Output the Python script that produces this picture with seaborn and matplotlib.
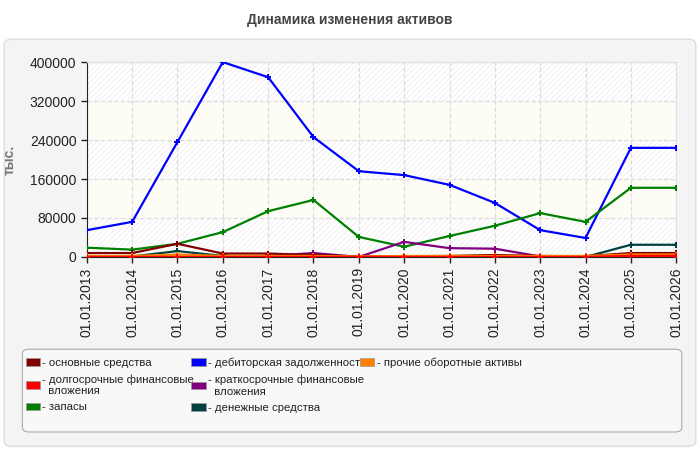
import pandas as pd
import matplotlib.pyplot as plt
import matplotlib.patches as mpatches
from matplotlib.patches import FancyBboxPatch
import seaborn as sns

dates = ['01.01.2013', '01.01.2014', '01.01.2015', '01.01.2016', '01.01.2017',
         '01.01.2018', '01.01.2019', '01.01.2020', '01.01.2021', '01.01.2022',
         '01.01.2023', '01.01.2024', '01.01.2025', '01.01.2026']

fixed_assets = [8000, 8000, 27000, 7000, 7000, 4000, 1000, 1500, 2000, 4000, 2000, 1500, 8000, 8000]
long_fin = [0, 0, 0, 0, 0, 0, 0, 0, 0, 0, 0, 0, 2000, 2000]
stocks = [19000, 15000, 27000, 51000, 94000, 117000, 41000, 21000, 43000, 64000, 90000, 72000, 142000, 142000]
receivables = [55000, 72000, 236000, 400000, 369000, 246000, 176000, 168000, 148000, 111000, 55000, 39000, 224000, 224000]
short_fin = [0, 0, 0, 0, 2000, 8000, 0, 31000, 18000, 17000, 1000, 0, 0, 0]
cash = [0, 1000, 12000, 2000, 1000, 1000, 0, 0, 0, 0, 0, 0, 25000, 25000]
other = [2000, 2000, 5000, 2000, 2000, 2000, 1000, 2000, 2000, 2000, 2000, 2000, 5000, 5000]

series_names = ['основные средства', 'долгосрочные финансовые\nвложения', 'запасы',
                'дебиторская задолженность', 'краткосрочные финансовые\nвложения',
                'денежные средства', 'прочие оборотные активы']
series_values = [fixed_assets, long_fin, stocks, receivables, short_fin, cash, other]
colors = ['#800000', '#ff0000', '#008000', '#0000ff', '#800080', '#004040', '#ff8000']
draw_order = [3, 2, 4, 5, 0, 6, 1]

rows = []
for name, vals in zip(series_names, series_values):
    for i, v in enumerate(vals):
        rows.append({'x': i, 'value': v, 'series': name})
df = pd.DataFrame(rows)

sns.set_style('white')
plt.rcParams['font.family'] = ['Liberation Sans', 'DejaVu Sans']
plt.rcParams['hatch.linewidth'] = 0.6

fig = plt.figure(figsize=(7, 4.5), dpi=100)
fig.patch.set_facecolor('white')
panel = FancyBboxPatch((0.006, 0.008), 0.988, 0.905, boxstyle='round,pad=0,rounding_size=0.012',
                       transform=fig.transFigure, facecolor='#f4f4f4', edgecolor='#dddddd',
                       lw=1, zorder=-5)
fig.patches.append(panel)
fig.text(0.5, 0.955, 'Динамика изменения активов', ha='center', va='center',
         fontsize=10, fontweight='bold', color='#444444')

ax = fig.add_axes([0.124, 0.429, 0.842, 0.433])
ax.set_facecolor('white')
# alternating bands
for lo, hi, col in [(0, 80000, None), (80000, 160000, '#fdfdf6'), (160000, 240000, None),
                    (240000, 320000, '#fdfdf6'), (320000, 400000, None)]:
    if col:
        ax.axhspan(lo, hi, facecolor=col, edgecolor='none', zorder=0)
    else:
        ax.axhspan(lo, hi, facecolor='white', edgecolor='#eeeeee', hatch='//////', lw=0, zorder=0)

for idx in draw_order:
    sub = df[df['series'] == series_names[idx]]
    sns.lineplot(data=sub, x='x', y='value', color=colors[idx], lw=1.6, marker='P',
                 markersize=4, markeredgewidth=0, ax=ax, zorder=3, legend=False)

ax.set_xlim(0, len(dates) - 1)
ax.set_ylim(0, 400000)
ax.set_xticks(range(len(dates)))
ax.set_xticklabels(dates, rotation=90, fontsize=10, color='#222222')
ax.set_yticks(range(0, 400001, 80000))
ax.tick_params(axis='y', labelsize=10, colors='#222222', length=4, width=1, left=True)
ax.tick_params(axis='x', length=4, width=1, bottom=True)
ax.grid(True, color='#dddddd', linestyle='--', lw=0.9, zorder=1)
ax.set_axisbelow(True)
for s in ['top', 'right']:
    ax.spines[s].set_color('#e0e0e0')
for s in ['left', 'bottom']:
    ax.spines[s].set_color('#222222')
ax.set_xlabel('')
ax.set_ylabel('тыс.', fontsize=10, fontweight='bold', color='#777777')
ax.yaxis.set_label_coords(-0.119, 0.5)

# legend box
box = FancyBboxPatch((0.032, 0.040), 0.942, 0.184, boxstyle='round,pad=0,rounding_size=0.01',
                     transform=fig.transFigure, facecolor='#f8f8f8', edgecolor='#aaaaaa',
                     lw=0.8, zorder=-4)
fig.patches.append(box)

handles = [mpatches.FancyBboxPatch((0, 0), 1, 1, boxstyle='round,pad=0,rounding_size=2',
                                   facecolor=c, edgecolor='#999999', lw=0.5)
           for c in colors]
labels = ['- ' + n.replace('\n', '\n  ') for n in series_names]
col_x = [0.030, 0.267, 0.508]
groups = [[0, 1, 2], [3, 4, 5], [6]]
for x0, grp in zip(col_x, groups):
    leg = fig.legend([handles[i] for i in grp], [labels[i] for i in grp], loc='upper left',
                     bbox_to_anchor=(x0, 0.215), bbox_transform=fig.transFigure,
                     fontsize=8.2, frameon=False, handlelength=1.25, handleheight=0.65,
                     handletextpad=0.2, labelspacing=0.55, borderaxespad=0, borderpad=0.4)
    for t in leg.get_texts():
        t.set_color('#222222')

fig.savefig('out.png', dpi=100)
